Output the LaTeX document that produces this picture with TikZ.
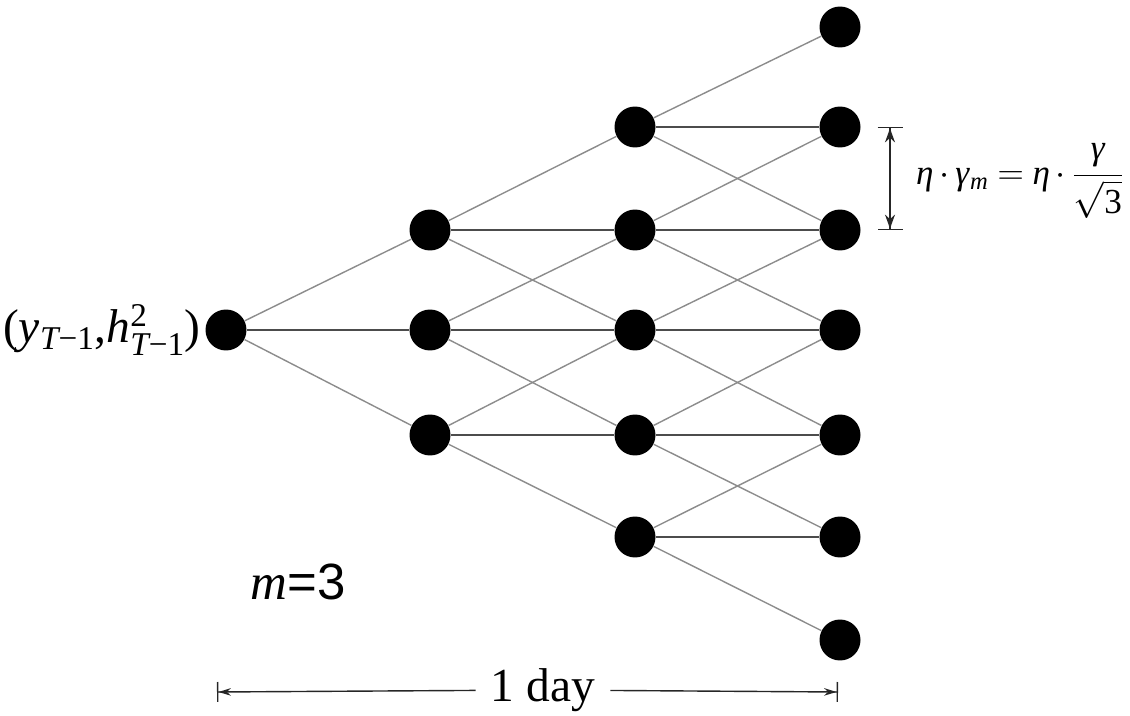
\documentclass[tikz,border=0pt]{standalone}
\usepackage{amsmath}
\usepackage{fontspec}
\setmainfont{Liberation Serif}
\newfontfamily\arialfont{Liberation Sans}
\usetikzlibrary{arrows.meta}

\tikzset{
  dot/.style={circle,fill=black,minimum size=0.82cm,inner sep=0pt},
  diag/.style={draw=black!45,line width=0.8pt},
  flat/.style={draw=black!70,line width=1.3pt},
  dimline/.style={line width=0.8pt,black!85}
}

\begin{document}
\begin{tikzpicture}[x=0.02cm,y=-0.02cm]
  \useasboundingbox (0,0) rectangle (1130,716);
  % root and the three later steps
  \node[dot] (n0) at (226,330) {};
  \node[dot] (a1) at (430,230) {};
  \node[dot] (a2) at (430,330) {};
  \node[dot] (a3) at (430,435) {};
  \node[dot] (b1) at (635,127) {};
  \node[dot] (b2) at (635,230) {};
  \node[dot] (b3) at (635,330) {};
  \node[dot] (b4) at (635,435) {};
  \node[dot] (b5) at (635,537) {};
  \node[dot] (c1) at (840,27) {};
  \node[dot] (c2) at (840,127) {};
  \node[dot] (c3) at (840,230) {};
  \node[dot] (c4) at (840,330) {};
  \node[dot] (c5) at (840,435) {};
  \node[dot] (c6) at (840,537) {};
  \node[dot] (c7) at (840,640) {};
  % branches
  \draw[diag] (n0) -- (a1);
  \draw[flat] (n0) -- (a2);
  \draw[diag] (n0) -- (a3);
  \foreach \i in {1,2,3} {
    \pgfmathtruncatemacro{\j}{\i+1}
    \pgfmathtruncatemacro{\k}{\i+2}
    \draw[diag] (a\i) -- (b\i);
    \draw[flat] (a\i) -- (b\j);
    \draw[diag] (a\i) -- (b\k);
  }
  \foreach \i in {1,...,5} {
    \pgfmathtruncatemacro{\j}{\i+1}
    \pgfmathtruncatemacro{\k}{\i+2}
    \draw[diag] (b\i) -- (c\i);
    \draw[flat] (b\i) -- (c\j);
    \draw[diag] (b\i) -- (c\k);
  }
  % labels
  \node[anchor=east,font=\fontsize{27}{30}\selectfont] (start) at (207,330)
    {(\textit{y}$_{\textit{T}\text{−1}}$,\textit{h}$^{\text{2}}_{\textit{T}\text{−1}}$)};
  \node[font=\fontsize{29}{32}\selectfont] (mval) at (298,582)
    {\textit{m}\arialfont =3};
  % step width
  \coordinate (t1) at (890,127);
  \coordinate (t2) at (890,230);
  \draw[dimline,{Bar[width=0.5cm]Stealth[length=0.28cm,width=0.2cm]}-{Stealth[length=0.28cm,width=0.2cm]Bar[width=0.5cm]}] (t1) -- (t2);
  \node[anchor=west,font=\fontsize{20}{23}\selectfont] (step) at (910,181)
    {\textit{η}\,$\cdot$\,\textit{γ}$_{\textit{m}}$ $=$ \textit{η}\,$\cdot$\,$\dfrac{\textit{γ}}{\sqrt{\text{3}}}$};
  % one day
  \coordinate (dl) at (217,692);
  \coordinate (dr) at (838,692);
  \node[inner xsep=0.3cm,font=\fontsize{27}{30}\selectfont] (day) at (543,690) {1 day};
  \draw[dimline,-{Stealth[length=0.25cm,width=0.15cm]Bar[width=0.4cm]}] (day) -- (dl);
  \draw[dimline,-{Stealth[length=0.25cm,width=0.15cm]Bar[width=0.4cm]}] (day) -- (dr);
\end{tikzpicture}
\end{document}
